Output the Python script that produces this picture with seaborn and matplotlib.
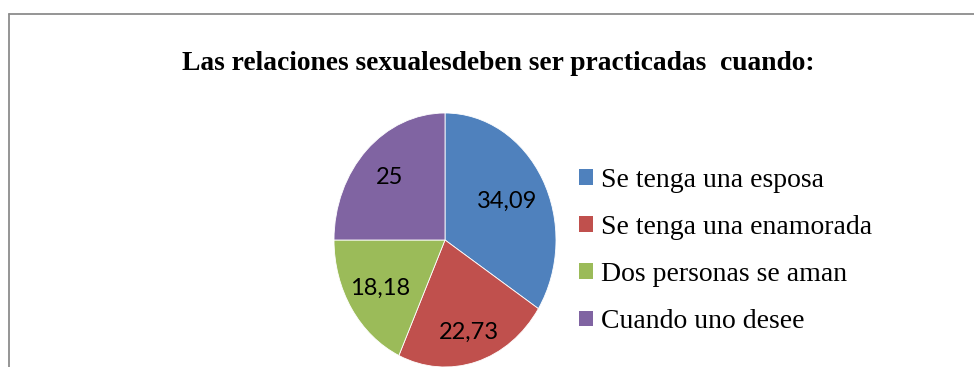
import matplotlib
matplotlib.use("Agg")
import numpy as np
import matplotlib.pyplot as plt
from matplotlib.lines import Line2D
import seaborn as sns

sns.set_theme(style="white")

# Survey answers and their shares (%)
categories = ["Se tenga una esposa", "Se tenga una enamorada",
              "Dos personas se aman", "Cuando uno desee"]
values = [34.09, 22.73, 18.18, 25]
value_labels = ["34,09", "22,73", "18,18", "25"]
title = "Las relaciones sexualesdeben ser practicadas  cuando:"

colors = ["#4F81BD", "#C0504D", "#9BBB59", "#8064A2"]
label_radius = [0.64, 0.76, 0.7, 0.7]

W, H = 974, 367
fig = plt.figure(figsize=(W / 100, H / 100), dpi=100)
fig.patch.set_facecolor("white")

# Pie axes (slightly taller than wide)
cx, cy, rx, ry = 445, 240, 111, 127
ax = fig.add_axes([(cx - rx) / W, (H - cy - ry) / H, 2 * rx / W, 2 * ry / H])
label_iter = iter(value_labels)
wedges, texts, autotexts = ax.pie(
    values, colors=colors, startangle=90, counterclock=False,
    autopct=lambda p: next(label_iter), pctdistance=0.7,
    wedgeprops=dict(edgecolor="white", linewidth=0.6),
    textprops=dict(fontsize=17, color="black",
                   family=["Lato", "DejaVu Sans"]),
)
# Place each value label along its wedge's bisector
for w, t, r in zip(wedges, autotexts, label_radius):
    mid = np.deg2rad((w.theta1 + w.theta2) / 2)
    t.set_position((r * np.cos(mid), r * np.sin(mid)))
ax.set_aspect("auto")
ax.set_xlim(-1, 1)
ax.set_ylim(-1, 1)
ax.axis("off")

# Title
fig.text(498 / W, 1 - 64 / H, title, ha="center", va="center",
         fontsize=19.8, fontweight="bold", family="Liberation Serif",
         color="black")

# Legend
leg = fig.legend(
    wedges, categories, loc="center left",
    bbox_to_anchor=(579 / W, 1 - 251 / H),
    frameon=False, borderpad=0, borderaxespad=0,
    handlelength=0.5, handleheight=0.5, handletextpad=0.3,
    labelspacing=0.8,
    prop=dict(family="Liberation Serif", size=20),
)
for h in leg.legend_handles:
    h.set_edgecolor("none")
for t in leg.get_texts():
    t.set_color("black")

# Chart area border (top and left edges)
border = "#8c8c8c"
fig.add_artist(Line2D([9 / W, 1], [1 - 14 / H, 1 - 14 / H], color=border,
                      lw=1.3, transform=fig.transFigure))
fig.add_artist(Line2D([9 / W, 9 / W], [0, 1 - 14 / H], color=border,
                      lw=1.3, transform=fig.transFigure))

fig.savefig("out.png", dpi=100, facecolor="white")
